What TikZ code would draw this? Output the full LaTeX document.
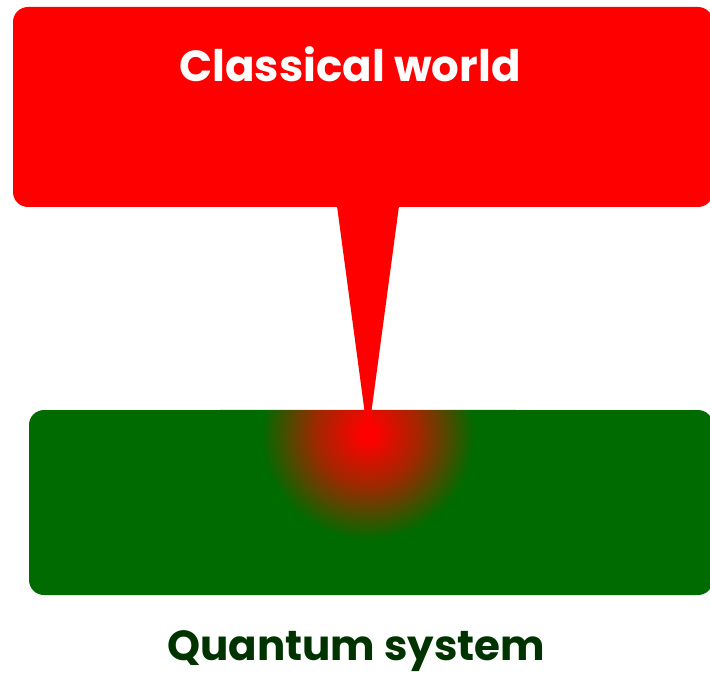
\documentclass[tikz,border=0pt]{standalone}
\usepackage{fontspec}
\setmainfont{Poppins}
\definecolor{qgreen}{HTML}{006B00}
\definecolor{qtext}{HTML}{003300}
\pgfdeclareradialshading{qglow}{\pgfpoint{0bp}{0bp}}{color(0bp)=(red); color(1.1bp)=(red); color(8.8bp)=(red!62!qgreen); color(17.8bp)=(qgreen); color(50bp)=(qgreen)}
\tikzset{
  box/.style={rectangle, rounded corners=15pt, inner sep=0pt},
  label/.style={anchor=base, inner sep=0pt}
}
\begin{document}
\begin{tikzpicture}[x=1pt,y=-1pt]
\useasboundingbox (0,0) rectangle (710,674);
\clip (0,0) rectangle (710,674);
\node[box, fill=red, minimum width=700pt, minimum height=200pt] (classical) at (363,107) {};
\node[box, fill=qgreen, minimum width=684pt, minimum height=185pt] (quantum) at (371,502.5) {};
\begin{scope}
  \clip[rounded corners=15pt] (quantum.south west) rectangle (quantum.north east);
  \shade[shading=qglow] (368,433) circle (150);
\end{scope}
\coordinate (tl) at (337,206);
\coordinate (tr) at (399,206);
\coordinate (tip) at (368,437);
\fill[red] (tl) -- (tr) -- (tip) -- cycle;
\node[label, text=white, font=\bfseries\fontsize{43.5}{48}\selectfont] (ctext) at (350,82) {Classical world};
\node[label, text=qtext, font=\bfseries\fontsize{42}{48}\selectfont] (qtext) at (356,660) {Quantum system};
\end{tikzpicture}
\end{document}
